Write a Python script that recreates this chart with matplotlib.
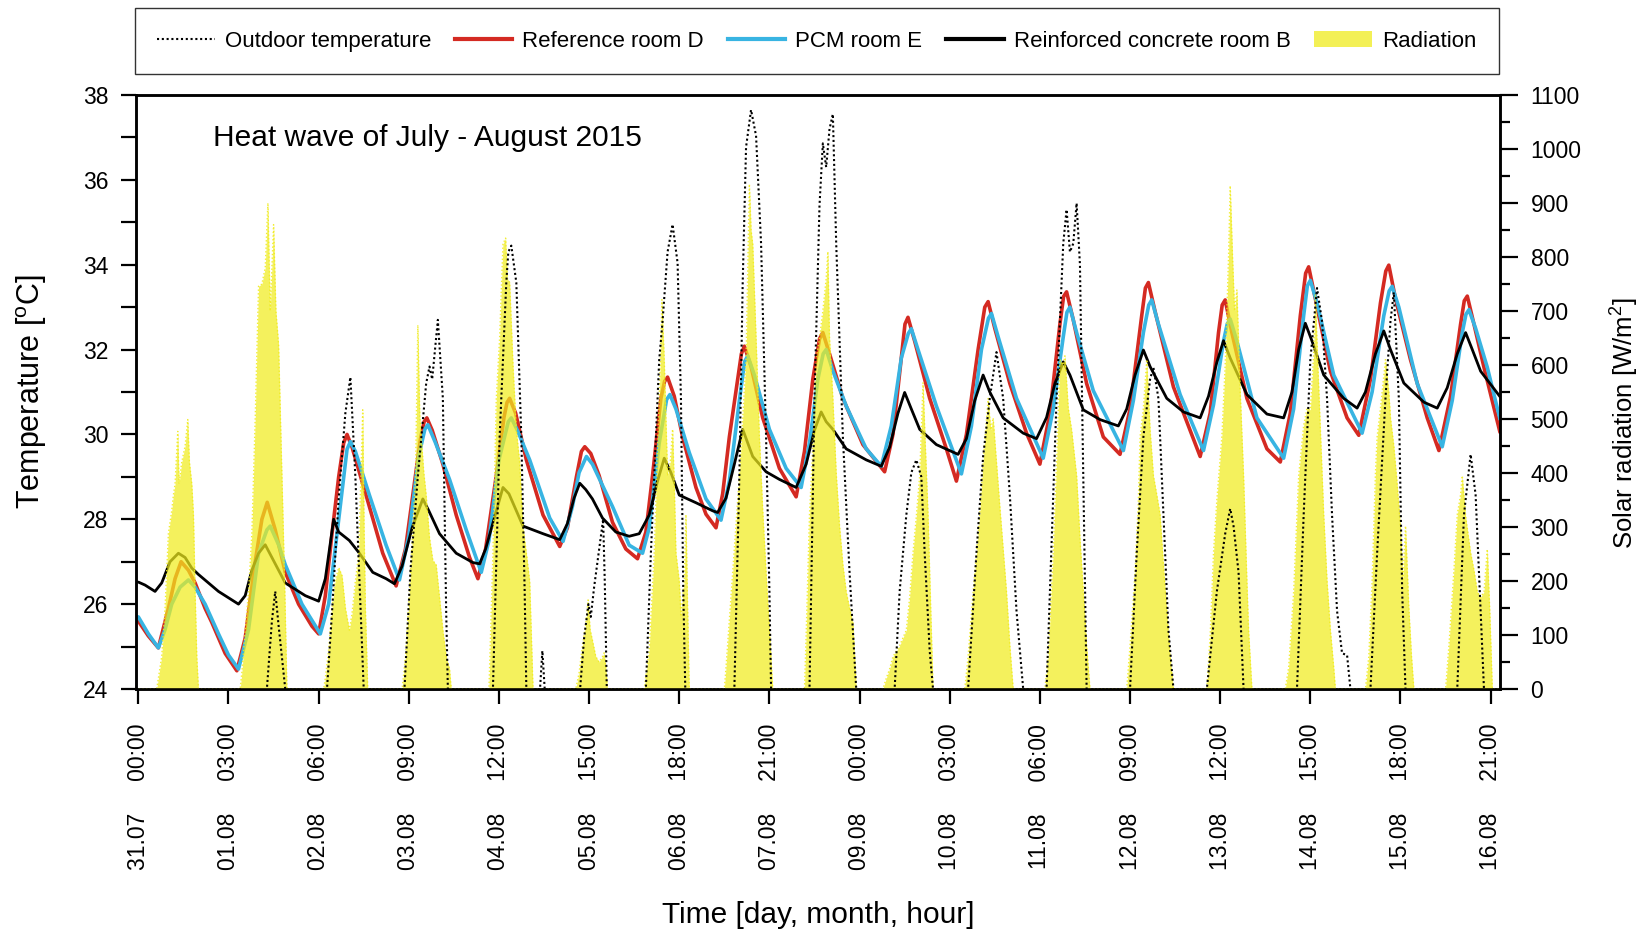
import matplotlib
matplotlib.use('Agg')
import matplotlib.pyplot as plt
from matplotlib import font_manager
from matplotlib.patches import Patch
from matplotlib.lines import Line2D
from matplotlib.ticker import MultipleLocator

# ---------------- data (hours since 31.07 00:00) ----------------
tick_hours = [0, 27, 54, 81, 108, 135, 162, 189, 216, 243, 270, 297, 324, 351, 378, 405]
tick_dates = ['31.07', '01.08', '02.08', '03.08', '04.08', '05.08', '06.08', '07.08',
              '09.08', '10.08', '11.08', '12.08', '13.08', '14.08', '15.08', '16.08']
tick_times = ['00:00', '03:00', '06:00', '09:00', '12:00', '15:00', '18:00', '21:00',
              '00:00', '03:00', '06:00', '09:00', '12:00', '15:00', '18:00', '21:00']

outdoor = [(-1, 18), (36, 18), (38.5, 24), (40, 25.6), (41, 26.3), (42, 25.5), (44, 24), (46, 18),
           (54, 18), (56.5, 24), (58, 25.8), (60, 28.5), (62, 30.5), (63.5, 31.35), (65, 29), (66.5, 26), (67.5, 24), (70, 18),
           (77, 18), (79.7, 24), (81.5, 26.8), (83.7, 29.0), (86.2, 31.2), (87.2, 31.6), (88, 31.3), (89.7, 32.7), (91.2, 30.85),
           (92.2, 25.8), (92.7, 24), (95, 18),
           (104, 18), (106.2, 24), (108.2, 29.94), (110.2, 33.58), (110.8, 34.3), (111.7, 34.45), (113.2, 33.58), (114.7, 29.94),
           (115.7, 26.3), (116.2, 24), (118, 18), (120.3, 24), (121, 24.9), (121.7, 24),
           (128, 18), (132.3, 24), (133.5, 25.2), (134.8, 26.0), (135.5, 25.7), (136.5, 26.4), (138, 27.3), (139.2, 28.0),
           (139.7, 26.5), (140.3, 24), (142, 18),
           (150, 18), (152, 24), (153.5, 27.2), (156, 31.76), (157, 32.67), (158.5, 34.3), (160, 34.95), (161.5, 34.04),
           (162.5, 30.85), (163.2, 26.3), (163.8, 24), (166, 18),
           (176, 18), (178.5, 24), (180, 29.03), (181, 33.58), (182, 36.77), (183.5, 37.65), (185, 37.04), (186.5, 34.5),
           (188, 29.94), (189, 26.3), (189.5, 24), (192, 18),
           (199, 18), (201, 24), (202.5, 30.85), (204, 35.4), (205, 36.86), (206, 36.3), (207, 37.2), (208, 37.55), (209, 34.5),
           (211, 29.94), (213, 26.75), (215, 24), (217, 18),
           (224, 18), (226.5, 24), (228, 26.3), (230, 28.1), (231.5, 29.1), (233, 29.4), (234.5, 29.0), (235.5, 27.2),
           (237, 24.9), (238, 24), (240, 18),
           (246, 18), (248.5, 24), (251, 27.2), (253, 29.48), (255, 30.85), (257, 31.94), (259, 30.85), (261, 28.57),
           (263, 25.84), (265, 24), (267, 18),
           (270, 18), (272, 24), (275, 30.85), (277, 34.5), (278, 35.3), (279, 34.3), (280, 34.5), (281, 35.45), (282, 34.0),
           (282.8, 29.94), (283.5, 26.3), (284, 24), (286, 18),
           (295, 18), (297, 24), (299, 27.2), (301, 29.94), (303, 31.3), (304, 31.58), (305.5, 30.85), (307, 28.1),
           (308.5, 25.4), (310, 24), (312, 18),
           (318, 18), (320, 24), (323, 26.3), (325.5, 27.66), (327, 28.25), (328, 27.84), (329.5, 26.75), (330.5, 24.9),
           (331, 24), (333, 18),
           (345, 18), (347, 24), (349, 28.1), (351, 31.76), (353, 33.45), (354.5, 32.67), (356, 30.85), (357.5, 28.1),
           (359, 25.84), (360.5, 24.84), (362, 24.8), (363, 24), (365, 18),
           (367, 18), (369, 24), (371, 27.2), (373.5, 30.85), (375, 32.67), (376, 33.35), (377.5, 30.85), (378.5, 26.3),
           (379.5, 24), (381, 18),
           (393, 18), (395, 24), (397, 28.1), (399, 29.53), (400.5, 28.57), (402, 25.84), (403, 24), (405, 18), (409, 18)]

room_d = [(0, 25.6), (3, 25.25), (6, 24.97), (9, 25.9), (11, 26.6), (12.8, 27.0), (15, 26.8), (17, 26.5), (20, 25.9),
          (22, 25.57), (26, 24.84), (29.5, 24.43), (32, 25.2), (35, 27.0), (37, 28.0), (38.6, 28.4), (41, 27.75),
          (44, 26.75), (48, 26.0), (52, 25.48), (54, 25.3), (56, 26.2), (58, 27.66), (60, 29.0), (61.5, 29.8), (62.5, 30.0),
          (64, 29.7), (68.2, 28.57), (73.2, 27.2), (77.2, 26.43), (80, 27.3), (82.2, 28.57), (84.5, 29.9), (85.6, 30.3),
          (86.4, 30.39), (88, 30.1), (91.2, 29.3), (95.2, 28.1), (99.2, 27.1), (101.7, 26.6), (104, 27.3), (107.2, 29.03),
          (109.5, 30.4), (110.4, 30.75), (111.2, 30.85), (113, 30.5), (116.2, 29.4), (121.2, 28.1), (126.2, 27.36),
          (128.5, 27.8), (131.2, 29.0), (132.7, 29.6), (133.7, 29.71), (135.5, 29.55), (138, 29.03), (142, 27.93),
          (146, 27.3), (149.5, 27.07), (152, 27.7), (154, 29.03), (156.5, 30.85), (157.6, 31.25), (158.5, 31.35),
          (160.5, 30.9), (163, 29.94), (167, 28.75), (170, 28.12), (173, 27.8), (175, 28.6), (177, 29.94), (179.5, 31.3),
          (180.6, 31.9), (181.5, 32.08), (183.5, 31.6), (187, 30.39), (192, 29.2), (197, 28.53), (199.5, 29.6), (202, 31.3),
          (204, 32.25), (205, 32.4), (207, 31.9), (211, 30.85), (217, 29.76), (223.5, 29.12), (226, 30.0), (228.5, 31.8),
          (229.6, 32.6), (230.5, 32.76), (232.5, 32.2), (237, 30.85), (242, 29.66), (245, 28.9), (248, 30.0), (251.5, 32.0),
          (253.5, 33.0), (254.5, 33.13), (256.5, 32.5), (261, 31.2), (266, 30.03), (270, 29.3), (273, 30.5), (276, 32.6),
          (277.1, 33.25), (278, 33.36), (280, 32.7), (284, 31.2), (289, 29.94), (294, 29.53), (297, 30.6), (300.5, 32.8),
          (301.6, 33.45), (302.5, 33.58), (304.5, 32.9), (310, 31.12), (318, 29.48), (321, 30.5), (323.5, 32.4),
          (324.6, 33.05), (325.5, 33.17), (327.5, 32.4), (332, 30.85), (338, 29.66), (342, 29.35), (345, 30.5), (348, 32.8),
          (349.6, 33.8), (350.5, 33.95), (352.5, 33.2), (357, 31.49), (362, 30.39), (365.5, 29.98), (369, 31.3),
          (372, 33.1), (373.6, 33.85), (374.5, 33.99), (376.5, 33.2), (381, 31.76), (386, 30.39), (389.5, 29.62),
          (393, 30.9), (396, 32.6), (397.1, 33.15), (398, 33.26), (400, 32.6), (403, 31.58), (407.8, 30.05)]

room_e = [(0, 25.7), (3, 25.3), (6, 24.97), (8, 25.4), (10, 26.0), (12.5, 26.4), (15, 26.57), (17, 26.4), (20, 26.0),
          (24, 25.3), (27, 24.8), (30, 24.47), (33, 25.4), (36, 27.2), (38.5, 27.75), (39.5, 27.84), (42, 27.4),
          (44, 26.93), (49, 26.0), (54.5, 25.3), (57, 26.0), (60, 28.0), (62.5, 29.65), (63.5, 29.83), (65, 29.6),
          (69.2, 28.57), (74.2, 27.39), (78.2, 26.57), (81, 27.6), (84, 29.5), (85.8, 30.12), (86.7, 30.23), (89, 29.8),
          (93.2, 28.94), (98.2, 27.75), (102.7, 26.75), (105, 27.5), (108, 29.4), (110.8, 30.3), (111.7, 30.39),
          (113.5, 30.1), (117.2, 29.4), (123.2, 28.03), (127.2, 27.48), (130, 28.3), (132, 29.1), (134.2, 29.48),
          (136, 29.3), (142, 28.3), (147, 27.39), (151, 27.2), (153, 27.8), (156, 29.8), (158.2, 30.82), (159.2, 30.94),
          (161, 30.6), (165, 29.57), (170, 28.48), (174.5, 27.98), (177, 28.9), (180, 30.8), (181.6, 31.72),
          (182.5, 31.85), (184.5, 31.4), (189, 30.12), (194, 29.2), (198.5, 28.75), (201, 29.8), (203.5, 31.3),
          (205.1, 31.9), (206, 32.0), (208, 31.5), (212, 30.67), (218, 29.66), (222.5, 29.25), (225.5, 30.2), (228.5, 31.8),
          (230.6, 32.38), (231.5, 32.49), (233.5, 32.0), (239, 30.67), (246.5, 29.07), (249.5, 30.2), (252.5, 32.0),
          (254.6, 32.74), (255.5, 32.85), (257.5, 32.3), (263, 30.85), (271, 29.44), (274, 30.6), (277, 32.3),
          (278.1, 32.88), (279, 33.0), (281, 32.4), (286, 31.03), (295, 29.62), (298, 30.8), (301, 32.4), (302.6, 33.05),
          (303.5, 33.17), (305.5, 32.6), (312, 30.94), (319, 29.62), (322, 30.7), (325, 32.2), (326.1, 32.6),
          (327, 32.72), (329, 32.2), (335, 30.39), (343, 29.44), (346, 30.6), (349, 32.8), (350.1, 33.5), (351, 33.63),
          (353, 33.1), (358, 31.4), (366.5, 30.03), (369.5, 31.0), (373, 32.8), (374.6, 33.38), (375.5, 33.49),
          (377.5, 33.0), (383, 31.2), (390.5, 29.71), (393.5, 30.8), (396.5, 32.4), (397.6, 32.83), (398.5, 32.94),
          (400.5, 32.5), (404, 31.58), (407.8, 30.36)]

room_b = [(0, 26.52), (2, 26.45), (5, 26.3), (7, 26.5), (9.5, 27.0), (12, 27.2), (14, 27.1), (16, 26.85), (18, 26.7),
          (21, 26.5), (24, 26.3), (28, 26.1), (30, 26.0), (32, 26.2), (34, 26.8), (36, 27.2), (38, 27.4), (40, 27.1),
          (42, 26.8), (44, 26.5), (47, 26.35), (50, 26.2), (54, 26.07), (56, 26.6), (58.5, 28.0), (60, 27.7),
          (63.2, 27.5), (66.2, 27.2), (70.2, 26.75), (74.2, 26.6), (76.7, 26.48), (79, 26.9), (82, 27.8), (85.2, 28.48),
          (87, 28.2), (90.2, 27.66), (95.2, 27.2), (100.2, 26.98), (102.2, 26.95), (104, 27.3), (106.5, 28.0),
          (109.2, 28.75), (111, 28.6), (115.2, 27.84), (121.2, 27.66), (126.2, 27.52), (128.5, 27.9), (130.5, 28.5),
          (132.2, 28.85), (134, 28.7), (136, 28.48), (139, 28.03), (143, 27.7), (147, 27.6), (150, 27.66), (153, 28.1),
          (155.5, 28.9), (157.5, 29.44), (159.5, 29.1), (162, 28.57), (167, 28.39), (172, 28.2), (173.5, 28.16),
          (176, 28.5), (178.5, 29.3), (181, 30.12), (182.5, 29.8), (184, 29.48), (188, 29.12), (192, 28.94), (197, 28.75),
          (200, 29.3), (202.5, 30.1), (204.5, 30.53), (206, 30.3), (208, 30.12), (212, 29.66), (218, 29.4),
          (222.5, 29.25), (225, 29.7), (227.5, 30.5), (229.5, 30.99), (231.5, 30.6), (234, 30.12), (239, 29.76),
          (245.5, 29.53), (248, 29.9), (250.5, 30.8), (253, 31.4), (255, 31.0), (259, 30.39), (265, 30.03), (269, 29.9),
          (272, 30.4), (274.5, 31.2), (277, 31.71), (279, 31.4), (283, 30.58), (288, 30.35), (293.5, 30.2), (296, 30.6),
          (298.5, 31.4), (301, 31.99), (303, 31.6), (308, 30.85), (313, 30.53), (318, 30.39), (320.5, 30.9), (323, 31.7),
          (325, 32.21), (327, 31.8), (332, 30.94), (338, 30.48), (343, 30.39), (345.5, 31.0), (347.5, 32.0),
          (349.5, 32.62), (351.5, 32.2), (355, 31.4), (361, 30.85), (365, 30.62), (367.5, 31.0), (370.5, 31.9),
          (373, 32.44), (375, 32.0), (379, 31.21), (385, 30.76), (389, 30.62), (392, 31.1), (395, 31.9), (397.5, 32.4),
          (399.5, 32.0), (402, 31.49), (407.8, 30.89)]

radiation = [(-1, 0), (5.5, 0), (6, 20), (7, 60), (8, 150), (9, 288), (10, 330), (10.5, 359), (11, 380), (11.8, 477),
             (12.2, 380), (13, 420), (14, 450), (14.8, 499), (15.3, 420), (16, 380), (16.5, 323), (17, 180), (17.5, 60), (18, 0),
             (30.5, 0), (31, 30), (32, 109), (33, 180), (34, 288), (35, 500), (36, 746), (37, 750), (38, 780), (38.8, 900),
             (39.5, 700), (40.5, 860), (41.2, 700), (42, 638), (43, 395), (43.8, 200), (44.5, 0),
             (55.5, 0), (56, 20), (57, 73), (58, 150), (59, 202), (60, 225), (61, 210), (62, 150), (63.2, 109), (64, 140),
             (65, 200), (66, 250), (67.2, 517), (67.6, 300), (68, 150), (68.7, 0),
             (79, 0), (80, 60), (81.2, 180), (82.2, 300), (83, 395), (83.7, 674), (84.3, 502), (85.5, 400), (86.2, 359),
             (87.2, 280), (88.2, 238), (89.2, 230), (90.2, 170), (91.2, 109), (92.2, 60), (93.2, 37), (93.7, 0),
             (105, 0), (106.2, 252), (107.2, 538), (108.2, 650), (109.2, 824), (110, 835), (110.5, 760), (111.2, 753),
             (112.2, 600), (113.2, 480), (114.2, 420), (115.2, 300), (116.2, 252), (117.2, 200), (118.2, 0),
             (131, 0), (132, 30), (133, 80), (134, 120), (134.7, 165), (135.3, 110), (136, 90), (137, 60), (138, 50),
             (139, 60), (139.5, 67), (140, 40), (140.5, 0),
             (151.5, 0), (153, 73), (154.5, 252), (155.5, 450), (156.3, 600), (156.8, 721), (157.5, 610), (158.5, 395),
             (159.3, 420), (160, 481), (160.5, 380), (161, 252), (162, 200), (162.5, 137), (163.5, 200), (164, 323),
             (164.5, 150), (165, 0),
             (175.5, 0), (176, 40), (178, 216), (180, 395), (181, 500), (182, 610), (183, 935), (183.5, 850), (184, 824),
             (185, 650), (186, 467), (187, 330), (188, 216), (189, 109), (190, 0),
             (199.5, 0), (200, 100), (201, 323), (202, 450), (203, 610), (204, 650), (205, 700), (206, 760), (206.5, 810),
             (207, 650), (208, 538), (209, 400), (210, 302), (211, 230), (212, 180), (213, 150), (214, 123), (215, 0),
             (223, 0), (224, 20), (225, 37), (226, 60), (228, 80), (229, 95), (230, 109), (231, 170), (232, 252),
             (233, 320), (234, 395), (235, 567), (235.7, 450), (236.5, 323), (237.3, 150), (238, 0),
             (247.5, 0), (248.5, 60), (250, 180), (251, 250), (252, 323), (253, 420), (254.5, 538), (255.3, 480),
             (256, 502), (257, 420), (258, 338), (259, 260), (260, 180), (261, 80), (262, 0),
             (271.5, 0), (272.5, 60), (274, 252), (275, 420), (276, 610), (277, 600), (277.5, 617), (278.5, 520),
             (279.5, 480), (281, 395), (282, 280), (283, 180), (284, 80), (285, 0),
             (296, 0), (297, 80), (298.5, 216), (299.5, 350), (300, 467), (301, 520), (302, 610), (303, 480), (304, 395),
             (305, 360), (306, 323), (307, 230), (308, 145), (309, 60), (310, 0),
             (320, 0), (321, 100), (322, 252), (323, 350), (324.5, 467), (325.5, 600), (326.5, 800), (327, 932),
             (327.7, 800), (328.3, 700), (329, 739), (330, 550), (331, 395), (332, 200), (332.5, 109), (333.5, 0),
             (343.5, 0), (344.5, 40), (346, 180), (347.5, 395), (349, 488), (350, 520), (351, 517), (352, 620),
             (352.5, 731), (353, 640), (354, 480), (355, 323), (356, 200), (357, 109), (358, 40), (358.5, 0),
             (367.5, 0), (368.5, 60), (369.5, 200), (370.5, 400), (371, 467), (372, 520), (373.5, 610), (374.5, 550),
             (375, 502), (376, 450), (377, 380), (378, 300), (378.7, 200), (379.5, 302), (380.5, 150), (381.3, 60), (382, 0),
             (391.5, 0), (392.5, 80), (394, 220), (395, 323), (396, 360), (396.5, 395), (397.5, 320), (399, 252),
             (400, 220), (401, 180), (402, 170), (403, 180), (404, 259), (404.7, 150), (405.5, 0), (409, 0)]

# ---------------- fonts ----------------
names = {f.name for f in font_manager.fontManager.ttflist}
BASE = 'Liberation Sans' if 'Liberation Sans' in names else 'DejaVu Sans'
NARROW = 'Liberation Sans Narrow' if 'Liberation Sans Narrow' in names else BASE
plt.rcParams['font.family'] = [BASE, 'DejaVu Sans']
plt.rcParams['mathtext.fontset'] = 'custom'
plt.rcParams['mathtext.rm'] = BASE
plt.rcParams['mathtext.it'] = BASE
plt.rcParams['axes.linewidth'] = 1.8


def unzip(pairs):
    return [p[0] for p in pairs], [p[1] for p in pairs]


RED = '#d42a22'
BLUE = '#38b4e2'
YELLOW = '#f0ec1e'

fig = plt.figure(figsize=(16.49, 9.30), dpi=100)
pos = [136 / 1649, 1 - 689 / 930, 1364 / 1649, 594 / 930]
ax = fig.add_axes(pos)

h, v = unzip(room_d)
ax.plot(h, v, color=RED, lw=2.6, solid_capstyle='round', solid_joinstyle='round')
h, v = unzip(room_e)
ax.plot(h, v, color=BLUE, lw=2.6, solid_capstyle='round', solid_joinstyle='round')
h, v = unzip(room_b)
ax.plot(h, v, color='black', lw=2.0, solid_capstyle='round', solid_joinstyle='round')

XMIN, XMAX = -0.7, 407.8
ax.set_xlim(XMIN, XMAX)
ax.set_ylim(24, 38)
ax.yaxis.set_major_locator(MultipleLocator(2))
ax.yaxis.set_minor_locator(MultipleLocator(1))
ax.set_xticks(tick_hours)
ax.set_xticklabels([f"{d}{' ' * 5}{t}" for d, t in zip(tick_dates, tick_times)], rotation=90)
ax.tick_params(axis='x', which='major', length=11, width=1.6, pad=14, labelsize=16.5, direction='out')
ax.tick_params(axis='y', which='both', length=11, width=1.6, pad=9, labelsize=16.5, direction='out')
ax.set_ylabel(r'Temperature [$^{\mathregular{o}}$C]', fontsize=22, labelpad=24)
ax.set_xlabel('Time [day, month, hour]', fontsize=21.5, labelpad=22)

# radiation on secondary axis (drawn over room lines, semi-transparent)
ax2 = ax.twinx()
h, v = unzip(radiation)
ax2.fill_between(h, v, 0, color=YELLOW, alpha=0.72, lw=0)
ax2.plot(h, v, color=YELLOW, lw=1.0, ls=':', alpha=0.9)
ax2.set_ylim(0, 1100)
ax2.set_xlim(XMIN, XMAX)
ax2.yaxis.set_major_locator(MultipleLocator(100))
ax2.yaxis.set_minor_locator(MultipleLocator(50))
ax2.tick_params(axis='y', which='major', length=13, width=1.6, pad=9, labelsize=16.5)
ax2.tick_params(axis='y', which='minor', length=7, width=1.6)
ax2.set_ylabel(r'Solar radiation [W/m$^{\mathregular{2}}$]', fontsize=18.5)
ax2.yaxis.set_label_coords(1.080, 0.448)

# outdoor temperature on top
ax3 = fig.add_axes(pos, frameon=False)
h, v = unzip(outdoor)
ax3.plot(h, v, color='black', lw=1.5, ls=(0, (1, 1.3)))
ax3.set_xlim(XMIN, XMAX)
ax3.set_ylim(24, 38)
ax3.axis('off')

ax.text(0.0565, 0.928, 'Heat wave of July - August 2015', transform=ax.transAxes,
        fontsize=21.5, ha='left', va='center')

handles = [Line2D([], [], color='black', lw=1.5, ls=(0, (1, 1.3))),
           Line2D([], [], color=RED, lw=3),
           Line2D([], [], color=BLUE, lw=3),
           Line2D([], [], color='black', lw=3),
           Patch(facecolor=YELLOW, alpha=0.75, edgecolor='none')]
labels = ['Outdoor temperature', 'Reference room D', 'PCM room E', 'Reinforced concrete room B', 'Radiation']
leg = ax3.legend(handles, labels, loc='center', bbox_to_anchor=(-0.001, 1.035, 1.0, 0.1115),
                 mode='expand', ncol=5, frameon=True, fancybox=False, edgecolor='black',
                 prop={'family': NARROW, 'size': 16}, handlelength=2.6, handletextpad=0.45,
                 columnspacing=0.5, borderpad=1.0, borderaxespad=0)
leg.get_frame().set_linewidth(1.0)

fig.savefig('out.png', dpi=100)
